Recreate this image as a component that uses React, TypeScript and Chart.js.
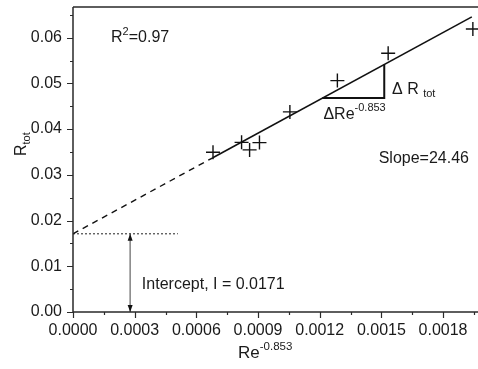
import React, { useEffect, useRef } from "react";
import { Chart, registerables } from "chart.js";
Chart.register(...registerables);

// Measured points: Re^-0.853 vs R_tot
const reX = [0.000681, 0.00082, 0.000859, 0.000907, 0.001055, 0.001286, 0.001533, 0.001945];
const rTot = [0.03495, 0.0371, 0.03545, 0.03705, 0.04376, 0.0506, 0.0566, 0.0619];

// Linear fit (solid part and dashed extrapolation)
const fitSolidX = [0.00068, 0.00194];
const fitSolidY = [0.03373, 0.06455];
const fitDashX = [0, 0.00068];
const fitDashY = [0.0171, 0.03373];

// Slope triangle
const triX = [0.001213, 0.001514, 0.001514];
const triY = [0.04678, 0.04678, 0.05413];

// Intercept guide
const interceptLineX = [0, 0.00051];
const interceptLineY = [0.0171, 0.0171];
const arrowX = [0.000278, 0.000278];
const arrowY = [0, 0.0171];

// Axes
const xTicks = [0, 0.0003, 0.0006, 0.0009, 0.0012, 0.0015, 0.0018];
const xTickLabels = ["0.0000", "0.0003", "0.0006", "0.0009", "0.0012", "0.0015", "0.0018"];
const xMinor = [0.00015, 0.00045, 0.00075, 0.00105, 0.00135, 0.00165, 0.00195];
const yTicks = [0, 0.01, 0.02, 0.03, 0.04, 0.05, 0.06];
const yTickLabels = ["0.00", "0.01", "0.02", "0.03", "0.04", "0.05", "0.06"];
const yMinor = [0.005, 0.015, 0.025, 0.035, 0.045, 0.055, 0.065];
const xMin = 0;
const xMax = 0.00197;
const yMin = 0;
const yMax = 0.0667;

// Annotation texts (anchored in data coordinates)
const r2Text = { x: 0.000185, y: 0.05897, base: "R", sup: "2", rest: "=0.97" };
const dRText = { x: 0.001552, y: 0.04772, base: "\u0394 R ", sub: "tot" };
const dReText = { x: 0.001218, y: 0.04224, base: "\u0394Re", sup: "-0.853" };
const slopeText = { x: 0.001487, y: 0.03266, text: "Slope=24.46" };
const interceptText = { x: 0.000335, y: 0.00513, text: "Intercept, I = 0.0171" };

const FONT = '"Liberation Sans", Arial, Helvetica, sans-serif';
const INK = "#1a1a1a";

const toPts = (xs: number[], ys: number[]) => xs.map((x, i) => ({ x, y: ys[i] }));

const decor = {
  id: "decor",
  afterDraw(chart: any) {
    const ctx = chart.ctx as CanvasRenderingContext2D;
    const xs = chart.scales.x;
    const ys = chart.scales.y;
    const a = chart.chartArea;
    const px = (v: number) => xs.getPixelForValue(v);
    const py = (v: number) => ys.getPixelForValue(v);
    ctx.save();

    // frame
    ctx.strokeStyle = "#2a2a2a";
    ctx.lineWidth = 1.5;
    ctx.beginPath();
    ctx.moveTo(a.left, a.top);
    ctx.lineTo(a.right + 2, a.top);
    ctx.moveTo(a.left, a.top);
    ctx.lineTo(a.left, a.bottom);
    ctx.lineTo(a.right + 2, a.bottom);
    ctx.stroke();

    // ticks
    ctx.lineWidth = 1.2;
    ctx.beginPath();
    xTicks.forEach((v) => { const x = Math.round(px(v)) + 0.5; ctx.moveTo(x, a.bottom); ctx.lineTo(x, a.bottom + 6); });
    xMinor.forEach((v) => { const x = Math.round(px(v)) + 0.5; ctx.moveTo(x, a.bottom); ctx.lineTo(x, a.bottom + 3); });
    yTicks.forEach((v) => { const y = Math.round(py(v)) + 0.5; ctx.moveTo(a.left, y); ctx.lineTo(a.left - 6, y); });
    yMinor.forEach((v) => { const y = Math.round(py(v)) + 0.5; ctx.moveTo(a.left, y); ctx.lineTo(a.left - 3, y); });
    ctx.stroke();

    // arrow heads on intercept arrow
    const ax = px(arrowX[0]);
    const aTop = py(arrowY[1]);
    const aBot = py(arrowY[0]);
    ctx.fillStyle = "#111";
    ctx.beginPath();
    ctx.moveTo(ax, aTop);
    ctx.lineTo(ax - 2.5, aTop + 7);
    ctx.lineTo(ax + 2.5, aTop + 7);
    ctx.closePath();
    ctx.fill();
    ctx.beginPath();
    ctx.moveTo(ax, aBot);
    ctx.lineTo(ax - 2.5, aBot - 7);
    ctx.lineTo(ax + 2.5, aBot - 7);
    ctx.closePath();
    ctx.fill();

    // texts
    ctx.fillStyle = INK;
    ctx.textBaseline = "alphabetic";
    ctx.textAlign = "left";
    const big = `16px ${FONT}`;
    const small = `11px ${FONT}`;

    // R^2
    let x = px(r2Text.x);
    let y = py(r2Text.y);
    ctx.font = big; ctx.fillText(r2Text.base, x, y); x += ctx.measureText(r2Text.base).width;
    ctx.font = small; ctx.fillText(r2Text.sup, x, y - 7); x += ctx.measureText(r2Text.sup).width;
    ctx.font = big; ctx.fillText(r2Text.rest, x, y);

    // Delta R tot
    x = px(dRText.x); y = py(dRText.y);
    ctx.font = big; ctx.fillText(dRText.base, x, y); x += ctx.measureText(dRText.base).width;
    ctx.font = small; ctx.fillText(dRText.sub, x, y + 3);

    // Delta Re^-0.853
    x = px(dReText.x); y = py(dReText.y);
    ctx.font = big; ctx.fillText(dReText.base, x, y); x += ctx.measureText(dReText.base).width;
    ctx.font = small; ctx.fillText(dReText.sup, x, y - 8);

    ctx.font = big;
    ctx.fillText(slopeText.text, px(slopeText.x), py(slopeText.y));
    ctx.fillText(interceptText.text, px(interceptText.x), py(interceptText.y));

    // x axis title
    x = 238; y = 358;
    ctx.font = `17px ${FONT}`; ctx.fillText("Re", x, y); x += ctx.measureText("Re").width;
    ctx.font = `11.5px ${FONT}`; ctx.fillText("-0.853", x, y - 8);

    // y axis title (rotated)
    ctx.translate(26, 156);
    ctx.rotate(-Math.PI / 2);
    ctx.font = `16px ${FONT}`; ctx.fillText("R", 0, 0);
    const w = ctx.measureText("R").width;
    ctx.font = `11px ${FONT}`; ctx.fillText("tot", w, 4);

    ctx.restore();
  },
};

export default function App() {
  const ref = useRef<HTMLCanvasElement | null>(null);
  useEffect(() => {
    if (!ref.current) return;
    const chart = new Chart(ref.current, {
      type: "scatter",
      data: {
        datasets: [
          {
            label: "data",
            data: toPts(reX, rTot),
            pointStyle: "cross",
            pointRadius: 7,
            pointHoverRadius: 7,
            pointBorderWidth: 1.4,
            borderColor: "#111",
            backgroundColor: "#111",
            showLine: false,
          },
          {
            label: "fit",
            data: toPts(fitSolidX, fitSolidY),
            showLine: true,
            borderColor: "#111",
            borderWidth: 1.6,
            pointRadius: 0,
          },
          {
            label: "fitDash",
            data: toPts(fitDashX, fitDashY),
            showLine: true,
            borderColor: "#111",
            borderWidth: 1.4,
            borderDash: [6, 5],
            pointRadius: 0,
          },
          {
            label: "triangle",
            data: toPts(triX, triY),
            showLine: true,
            borderColor: "#111",
            borderWidth: 2,
            pointRadius: 0,
          },
          {
            label: "interceptLine",
            data: toPts(interceptLineX, interceptLineY),
            showLine: true,
            borderColor: "#222",
            borderWidth: 1,
            borderDash: [2, 2],
            pointRadius: 0,
          },
          {
            label: "arrow",
            data: toPts(arrowX, arrowY),
            showLine: true,
            borderColor: "#8a8a8a",
            borderWidth: 1.6,
            pointRadius: 0,
          },
        ],
      },
      plugins: [decor],
      options: {
        responsive: false,
        animation: false,
        devicePixelRatio: 1,
        layout: { autoPadding: false, padding: { top: 7, left: 0, right: 0, bottom: 0 } },
        plugins: { legend: { display: false }, tooltip: { enabled: false } },
        scales: {
          x: {
            type: "linear",
            min: xMin,
            max: xMax,
            grid: { display: false, drawTicks: false },
            border: { display: false },
            afterBuildTicks: (s: any) => { s.ticks = xTicks.map((v) => ({ value: v })); },
            afterFit: (s: any) => { s.height = 57; s.paddingLeft = 0; s.paddingRight = 0; },
            ticks: {
              padding: 9,
              color: INK,
              font: { family: FONT, size: 16 },
              maxRotation: 0,
              autoSkip: false,
              callback: (_v: any, i: number) => xTickLabels[i],
            },
          },
          y: {
            type: "linear",
            min: yMin,
            max: yMax,
            grid: { display: false, drawTicks: false },
            border: { display: false },
            afterBuildTicks: (s: any) => { s.ticks = yTicks.map((v) => ({ value: v })); },
            afterFit: (s: any) => { s.width = 73; s.paddingTop = 0; s.paddingBottom = 0; },
            ticks: {
              padding: 11,
              color: INK,
              font: { family: FONT, size: 16 },
              autoSkip: false,
              callback: (_v: any, i: number) => yTickLabels[i],
            },
          },
        },
      },
    });
    return () => chart.destroy();
  }, []);
  return (
    <div style={{ position: "absolute", left: 0, top: 0, width: 478, height: 369, background: "#fff" }}>
      <canvas ref={ref} width={478} height={369} style={{ display: "block", width: 478, height: 369 }} />
    </div>
  );
}
